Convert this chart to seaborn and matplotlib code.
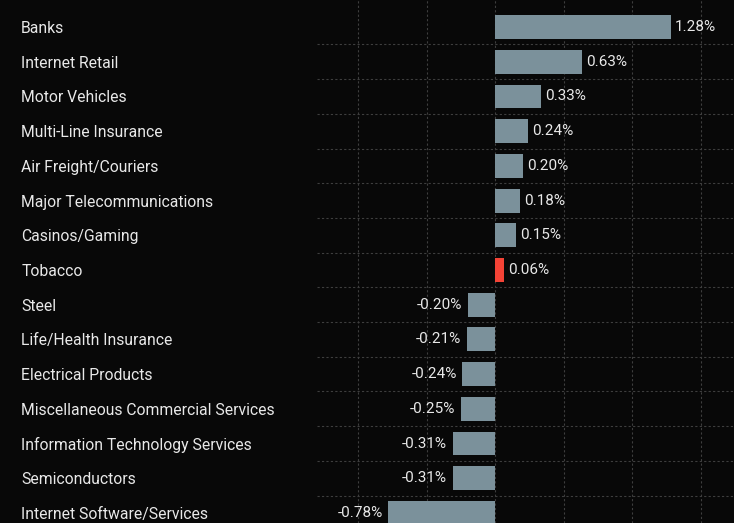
import pandas as pd
import numpy as np
import matplotlib
matplotlib.use('Agg')
import matplotlib.pyplot as plt
import seaborn as sns

## data
industries = ['Banks', 'Internet Retail', 'Motor Vehicles', 'Multi-Line Insurance',
              'Air Freight/Couriers', 'Major Telecommunications', 'Casinos/Gaming',
              'Tobacco', 'Steel', 'Life/Health Insurance', 'Electrical Products',
              'Miscellaneous Commercial Services', 'Information Technology Services',
              'Semiconductors', 'Internet Software/Services']
returns = [1.28, 0.63, 0.33, 0.24, 0.20, 0.18, 0.15, 0.06,
           -0.20, -0.21, -0.24, -0.25, -0.31, -0.31, -0.78]
highlight = 'Tobacco'

data = pd.DataFrame({'industry': industries, 'ret': returns})

## colours
bg = '#080808'
bar_col = '#7b919b'
red = '#f44336'
txt = '#e8e8e8'
palette = {name: (red if name == highlight else bar_col) for name in industries}

sns.set_style('dark')
plt.rcParams['font.family'] = ['Roboto', 'DejaVu Sans']

fig = plt.figure(figsize=(7.34, 5.23), dpi=100, facecolor=bg)
ax = fig.add_axes([317 / 734, 0, 1 - 317 / 734, 1])
ax.set_facecolor(bg)

sns.barplot(data=data, x='ret', y='industry', hue='industry', palette=palette,
            orient='h', width=0.69, legend=False, ax=ax, zorder=3, saturation=1,
            edgecolor='none', linewidth=0)

ax.set_xlim(-1.3, 1.74)
ax.set_ylim(14.29, -0.78)
ax.set_xticks(np.arange(-1.0, 1.51, 0.5))
ax.set_yticks(np.arange(0.5, 14, 1.0), minor=True)
ax.grid(False)
ax.grid(axis='x', which='major', color='#3e3e3e', linestyle=(0, (2, 2)), linewidth=0.8, zorder=0)
ax.grid(axis='y', which='minor', color='#3e3e3e', linestyle=(0, (2, 2)), linewidth=0.8, zorder=0)
ax.tick_params(axis='x', which='both', length=0, labelbottom=False)
ax.tick_params(axis='y', which='both', length=0, pad=213, labelsize=11.3, labelcolor=txt)
for lbl in ax.get_yticklabels():
    lbl.set_ha('left')
ax.set_xlabel('')
ax.set_ylabel('')
for s in ax.spines.values():
    s.set_visible(False)

# value labels
for i, v in enumerate(returns):
    if v >= 0:
        ax.annotate(f'{v:.2f}%', (v, i), xytext=(3, 0), textcoords='offset points',
                    ha='left', va='center', color=txt, fontsize=11)
    else:
        ax.annotate(f'{v:.2f}%', (v, i), xytext=(-4, 0), textcoords='offset points',
                    ha='right', va='center', color=txt, fontsize=11)

fig.savefig('out.png', dpi=100, facecolor=bg)
